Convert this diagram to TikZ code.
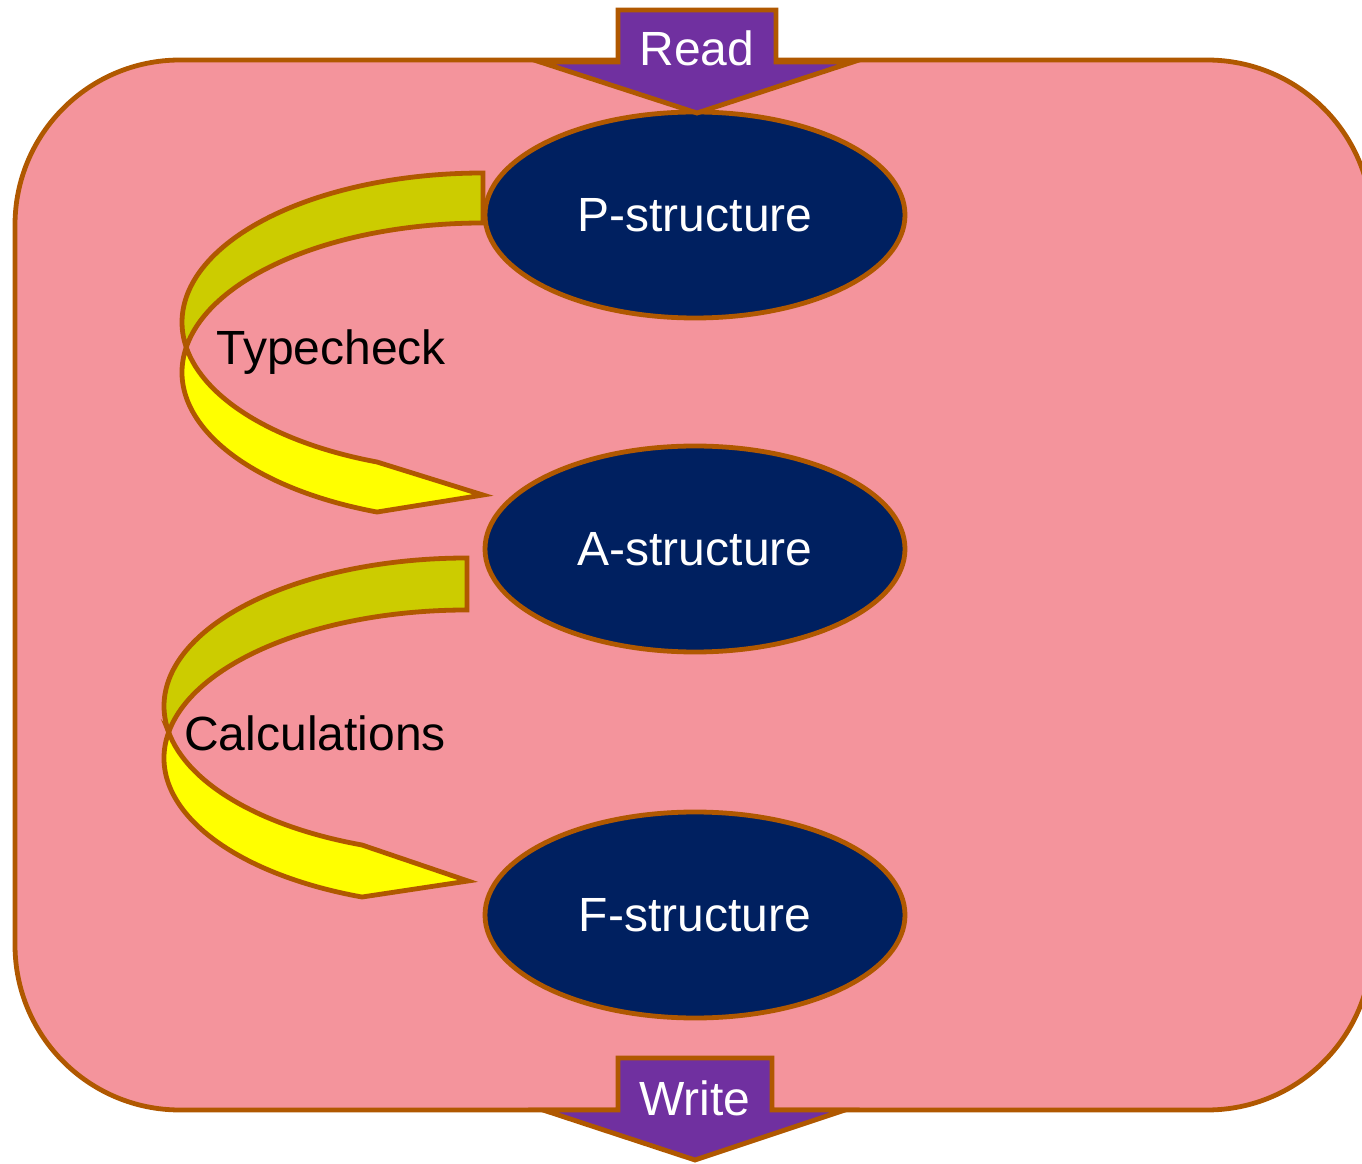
\documentclass[tikz,border=0pt]{standalone}
\usepackage{fontspec}
\setmainfont{Liberation Sans}
\usetikzlibrary{shapes.geometric}
\definecolor{bord}{RGB}{176,88,0}
\definecolor{pinkbg}{RGB}{244,148,156}
\definecolor{navy}{RGB}{0,32,96}
\definecolor{purp}{RGB}{112,48,160}
\definecolor{yel}{RGB}{255,255,0}
\definecolor{darkyel}{RGB}{204,204,0}
\newcommand\bigtxt{\fontsize{48}{57}\selectfont}
\begin{document}
\begin{tikzpicture}[x=1pt,y=1pt,
  edge/.style={draw=bord, line width=4.8pt},
  struct/.style={ellipse, edge, fill=navy, text=white, minimum width=420pt, minimum height=206pt, inner sep=0pt, font=\bigtxt},
  io/.style={edge, fill=purp},
  iotext/.style={text=white, inner sep=0pt, font=\bigtxt},
  lbl/.style={text=black, inner sep=0pt, font=\bigtxt}]
\useasboundingbox (0,0) rectangle (1362,1163);
% background rounded box
\path[edge, fill=pinkbg, rounded corners=165pt] (15,53) rectangle (1372,1103);
% structures
\node[struct] (P) at (695,948) {P-structure};
\node[struct] (A) at (695,614) {A-structure};
\node[struct] (F) at (695,248) {F-structure};
% Typecheck curved arrow
\path[edge, fill=darkyel] (483,990)
  arc[start angle=90, end angle=189.64, x radius=301, y radius=149.3]
  arc[start angle=170.36, end angle=90, x radius=301, y radius=149.3] -- cycle;
\path[edge, fill=yel] (186.25,815.7)
  arc[start angle=170.36, end angle=249.38, x radius=301, y radius=149.3]
  -- (483,668) -- (377.0,701.0)
  arc[start angle=249.38, end angle=189.64, x radius=301, y radius=149.3] -- cycle;
\node[lbl, anchor=base east] (tc) at (446,798) {Typecheck};
% Calculations curved arrow
\path[edge, fill=darkyel] (467,605)
  arc[start angle=90, end angle=190.11, x radius=303, y radius=148.1]
  arc[start angle=169.89, end angle=90, x radius=303, y radius=148.1] -- cycle;
\path[edge, fill=yel] (168.7,430.9)
  arc[start angle=169.89, end angle=249.73, x radius=303, y radius=148.1]
  -- (468,282) -- (362,318)
  arc[start angle=249.73, end angle=190.11, x radius=303, y radius=148.1] -- cycle;
\node[lbl, anchor=base east] (calc) at (446,413) {Calculations};
% Read arrow
\path[io] (618,1153) -- (776,1153) -- (776,1101) -- (853,1101) -- (697,1050) -- (540,1101) -- (618,1101) -- cycle;
\node[iotext] (read) at (697,1115) {Read};
% Write arrow
\path[io] (618,105) -- (772,105) -- (772,53) -- (845,53) -- (695,3) -- (543,53) -- (618,53) -- cycle;
\node[iotext] (write) at (695,65) {Write};
\end{tikzpicture}
\end{document}
